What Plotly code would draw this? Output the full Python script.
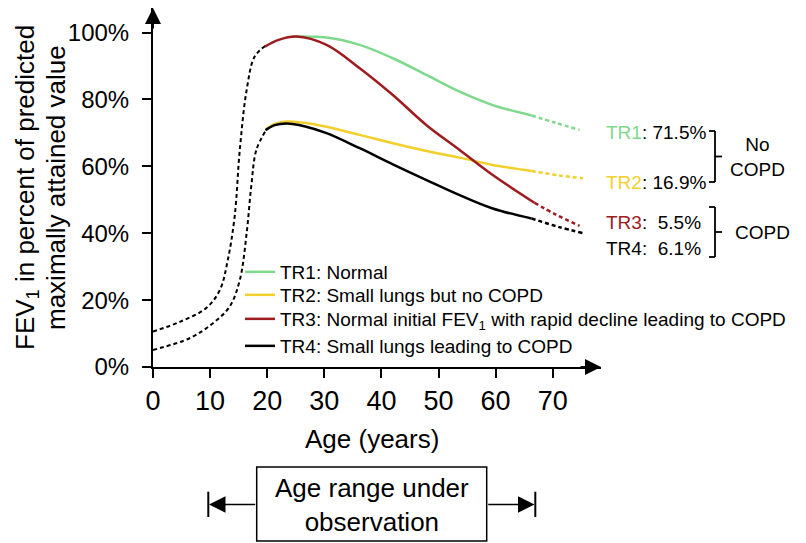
import plotly.graph_objects as go

# ---------------- data ----------------
tr1_age = [24.5, 30.4, 36.2, 42, 47.9, 53.7, 59.5, 66.3]
tr1_pct = [98.8, 98.5, 96.3, 92.3, 87.3, 82.3, 78.3, 75.2]
tr1_ext_age = [66.3, 70.5, 74.7]
tr1_ext_pct = [75.2, 73, 70.9]

tr2_age = [19.7, 21.5, 23.4, 26.5, 30.4, 36.2, 42, 47.9, 53.7, 59.5, 66.3]
tr2_pct = [71.0, 72.8, 73.4, 73.0, 71.8, 69.4, 66.9, 64.6, 62.6, 60.4, 58.6]
tr2_ext_age = [66.3, 71, 75.3]
tr2_ext_pct = [58.6, 57.3, 56.4]

tr3_age = [19.6, 22, 25.1, 30.4, 36.2, 42, 47.9, 53.7, 59.5, 66.8]
tr3_pct = [95.8, 97.8, 98.8, 96.3, 89.3, 81.3, 72.3, 64.9, 57.4, 49.1]
tr3_ext_age = [66.8, 70.5, 74.7]
tr3_ext_pct = [49.1, 45.6, 42.2]

tr4_age = [19.7, 21.3, 23.4, 26.5, 30.4, 36.2, 42, 47.9, 53.7, 59.5, 66.3]
tr4_pct = [70.8, 72.3, 72.8, 72.0, 69.9, 65.4, 60.6, 55.9, 51.4, 47.4, 44.4]
tr4_ext_age = [66.3, 71, 75.3]
tr4_ext_pct = [44.4, 41.9, 40]

early_hi_age = [0, 4.7, 9.3, 11.7, 13.1, 14.3, 15.2, 16.4, 17.8, 19.7]
early_hi_pct = [10.6, 13.5, 17.6, 23, 32, 45, 64.9, 82.8, 92.8, 96]
early_lo_age = [0, 6.4, 10.5, 13.4, 15.2, 16.4, 17.2, 18.1, 19.8]
early_lo_pct = [5.1, 8.6, 13.1, 18, 26, 40, 53.9, 64.9, 70.8]

names = ["TR1: Normal", "TR2: Small lungs but no COPD",
         "TR3: Normal initial FEV<sub>1</sub> with rapid decline leading to COPD",
         "TR4: Small lungs leading to COPD"]
colors = ["#7fd98c", "#f3cf2b", "#9e1b1e", "#000000"]
share_labels = ["TR1", "TR2", "TR3", "TR4"]
share_values = ["71.5%", "16.9%", "\u00a05.5%", "\u00a06.1%"]

x_ticks = [0, 10, 20, 30, 40, 50, 60, 70]
y_ticks = [0, 20, 40, 60, 80, 100]
y_tick_text = ["0%", "20%", "40%", "60%", "80%", "100%"]
y_title_lines = ["FEV<sub>1</sub> in percent of predicted", "maximally attained value"]

FONT = "Liberation Sans, Arial, Helvetica, sans-serif"

# ---------------- layout geometry ----------------
# page body has an 8px margin, so the figure is offset by 8px from the window corner
OFF = 8
W, H = 806 - OFF, 543 - OFF
ML, MT = 145, 0
PW, PH = 448, 359
MR, MB = W - ML - PW, H - MT - PH
X_MAX = PW / 5.71
Y_MAX = PH / 3.345


def px(X):  # reference-window pixel -> paper
    return (X - OFF - ML) / PW


def py(Y):
    return (MT + PH - (Y - OFF)) / PH


fig = go.Figure()

dash_style = "4px,3px"
fig.add_trace(go.Scatter(x=early_hi_age, y=early_hi_pct, mode="lines", showlegend=False,
                         line=dict(color="black", width=2, dash=dash_style, shape="spline")))
fig.add_trace(go.Scatter(x=early_lo_age, y=early_lo_pct, mode="lines", showlegend=False,
                         line=dict(color="black", width=2, dash=dash_style, shape="spline")))

series = [(tr1_age, tr1_pct, tr1_ext_age, tr1_ext_pct),
          (tr2_age, tr2_pct, tr2_ext_age, tr2_ext_pct),
          (tr3_age, tr3_pct, tr3_ext_age, tr3_ext_pct),
          (tr4_age, tr4_pct, tr4_ext_age, tr4_ext_pct)]
legend_ids = ["legend", "legend2", "legend3", "legend4"]
legend_rows = [272, 295, 319, 346]
for (a, p, ea, ep), name, c in zip(series, names, colors):
    fig.add_trace(go.Scatter(x=ea, y=ep, mode="lines", showlegend=False,
                             line=dict(color=c, width=2.5, dash=dash_style, shape="spline")))
for (a, p, ea, ep), name, c, lg in zip(series, names, colors, legend_ids):
    fig.add_trace(go.Scatter(x=a, y=p, mode="lines", name=name, legend=lg,
                             line=dict(color=c, width=2.5, shape="spline")))

legend_layout = {}
for lg, row in zip(legend_ids, legend_rows):
    legend_layout[lg] = dict(x=px(240), y=py(row), xanchor="left", yanchor="middle",
                             bgcolor="rgba(0,0,0,0)", font=dict(size=19), itemwidth=30)

fig.update_layout(
    width=W, height=H,
    margin=dict(l=ML, r=MR, t=MT, b=MB),
    paper_bgcolor="white", plot_bgcolor="white",
    font=dict(family=FONT, color="black"),
    showlegend=True,
    **legend_layout,
)
fig.update_xaxes(range=[0, X_MAX], tickvals=x_ticks, showgrid=False, zeroline=False,
                 showline=True, linecolor="black", linewidth=2,
                 ticks="outside", ticklen=9, tickwidth=2, tickcolor="black",
                 tickfont=dict(size=27), ticklabelstandoff=0)
fig.update_yaxes(range=[0, Y_MAX], tickvals=y_ticks, ticktext=y_tick_text, showgrid=False,
                 zeroline=False, showline=True, linecolor="black", linewidth=2,
                 ticks="outside", ticklen=9, tickwidth=2, tickcolor="black",
                 tickfont=dict(size=24), ticklabelstandoff=8)

ann = []
# axis arrowheads
ann.append(dict(x=0, y=Y_MAX, xref="x", yref="y", ax=0, ay=22, showarrow=True,
                arrowhead=2, arrowsize=1.6, arrowwidth=2, arrowcolor="black", text=""))
ann.append(dict(x=X_MAX, y=0, xref="x", yref="y", ax=-22, ay=0, showarrow=True,
                arrowhead=2, arrowsize=1.6, arrowwidth=2, arrowcolor="black", text=""))
# axis titles (two rotated lines)
for txt, xc in zip(y_title_lines, [26, 56]):
    ann.append(dict(x=px(xc), y=py(188), xref="paper", yref="paper", showarrow=False,
                    textangle=-90, xanchor="center", yanchor="middle",
                    text=txt, font=dict(size=26)))
ann.append(dict(x=px(372), y=py(439), xref="paper", yref="paper", showarrow=False,
                xanchor="center", yanchor="middle", text="Age (years)", font=dict(size=26)))
# right-hand shares
share_y = [132, 182, 222, 248]
for lab, val, c, yy in zip(share_labels, share_values, colors, share_y):
    ann.append(dict(x=px(604), y=py(yy), xref="paper", yref="paper", showarrow=False,
                    xanchor="left", yanchor="middle",
                    text=f"<span style='color:{c}'>{lab}</span>: {val}", font=dict(size=19)))
ann.append(dict(x=px(757), y=py(157), xref="paper", yref="paper", showarrow=False,
                xanchor="center", yanchor="middle", text="No<br>COPD", font=dict(size=19)))
ann.append(dict(x=px(762), y=py(232), xref="paper", yref="paper", showarrow=False,
                xanchor="center", yanchor="middle", text="COPD", font=dict(size=19)))
# bottom box text and arrows
ann.append(dict(x=px(371.7), y=py(505), xref="paper", yref="paper", showarrow=False,
                xanchor="center", yanchor="middle", text="Age range under<br>observation",
                font=dict(size=26)))
ann.append(dict(x=px(209), y=py(504.5), xref="paper", yref="paper", ax=47.7, ay=0,
                showarrow=True, arrowhead=2, arrowsize=2.2, arrowwidth=1.5, arrowcolor="black",
                text=""))
ann.append(dict(x=px(534.5), y=py(504.5), xref="paper", yref="paper", ax=-47.8, ay=0,
                showarrow=True, arrowhead=2, arrowsize=2.2, arrowwidth=1.5, arrowcolor="black",
                text=""))
fig.update_layout(annotations=ann)

shapes = []


def line(x0, y0, x1, y1, w=1.8):
    shapes.append(dict(type="line", xref="paper", yref="paper",
                       x0=px(x0), y0=py(y0), x1=px(x1), y1=py(y1),
                       line=dict(color="black", width=w)))


# brackets
for top, bot in [(131, 182), (207, 257)]:
    mid = (top + bot) / 2
    line(709, top, 715, top)
    line(715, top, 715, bot)
    line(709, bot, 715, bot)
    line(715, mid, 722, mid)
# box
shapes.append(dict(type="rect", xref="paper", yref="paper",
                   x0=px(256.7), x1=px(486.7), y0=py(541), y1=py(467),
                   line=dict(color="black", width=1.5)))
# end bars of the observation arrows
line(208.3, 491.7, 208.3, 517, 2)
line(535.3, 491.7, 535.3, 517, 2)
fig.update_layout(shapes=shapes)

fig.write_html("out.html")
